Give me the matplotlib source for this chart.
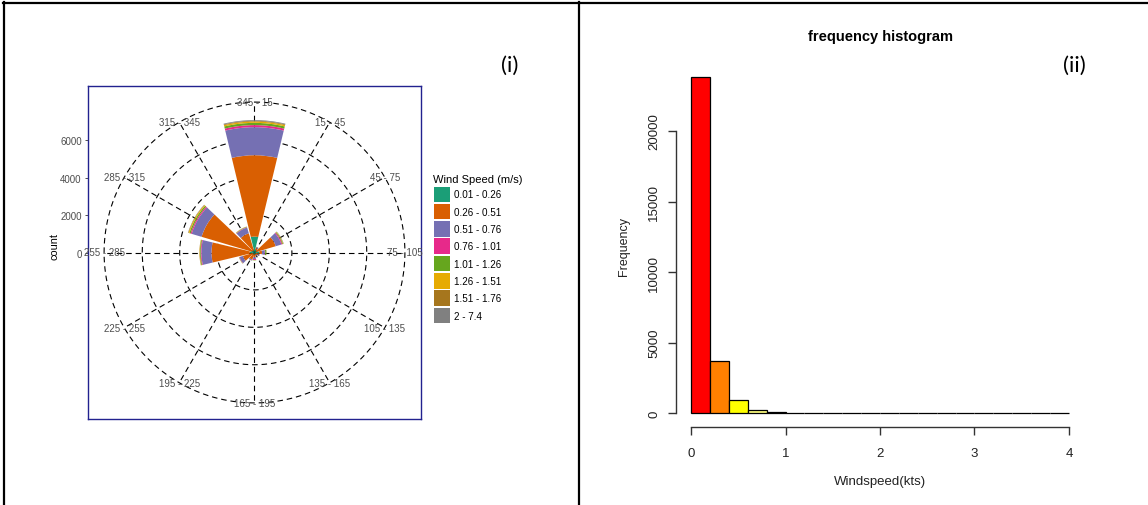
import numpy as np
import matplotlib
matplotlib.use("Agg")
import matplotlib.pyplot as plt
from matplotlib.lines import Line2D
from matplotlib.patches import Rectangle

plt.rcParams['font.family'] = ['Liberation Sans', 'DejaVu Sans']

W, H = 1148, 506

# ---------------- wind rose data ----------------
directions = [0, 30, 60, 90, 120, 150, 180, 210, 240, 270, 300, 330]
dir_labels = ["345 - 15", "15 - 45", "45 - 75", "75 - 105", "105 - 135", "135 - 165",
              "165 - 195", "195 - 225", "225 - 255", "255 - 285", "285 - 315", "315 - 345"]
speed_bins = ["0.01 - 0.26", "0.26 - 0.51", "0.51 - 0.76", "0.76 - 1.01",
              "1.01 - 1.26", "1.26 - 1.51", "1.51 - 1.76", "2 - 7.4"]
speed_colors = ["#1B9E77", "#D95F02", "#7570B3", "#E7298A",
                "#66A61E", "#E6AB02", "#A6761D", "#808080"]
spd_001_026 = [850, 150, 100, 250, 100, 80, 100, 100, 100, 250, 150, 100]
spd_026_051 = [4350, 100, 1080, 150, 100, 80, 150, 300, 550, 2050, 2800, 970]
spd_051_076 = [1500, 50, 320, 150, 50, 40, 100, 50, 180, 540, 550, 320]
spd_076_101 = [110, 10, 50, 20, 5, 5, 50, 5, 20, 40, 60, 20]
spd_101_126 = [120, 10, 40, 60, 5, 5, 20, 5, 15, 40, 70, 20]
spd_126_151 = [70, 5, 20, 10, 0, 0, 5, 0, 5, 20, 50, 10]
spd_151_176 = [40, 0, 10, 5, 0, 0, 0, 0, 0, 10, 20, 5]
spd_2_74 = [40, 0, 10, 5, 0, 0, 0, 0, 0, 0, 10, 5]
speed_series = [spd_001_026, spd_026_051, spd_051_076, spd_076_101,
                spd_101_126, spd_126_151, spd_151_176, spd_2_74]
count_ticks = [0, 2000, 4000, 6000]
grid_circles = [2000, 4000, 6000, 8040]

# ---------------- histogram data ----------------
bin_left = [0.0, 0.2, 0.4, 0.6, 0.8, 1.0, 1.2, 1.4, 1.6, 1.8,
            2.0, 2.2, 2.4, 2.6, 2.8, 3.0, 3.2, 3.4, 3.6, 3.8]
hist_counts = [23800, 3720, 950, 215, 55, 0, 0, 0, 0, 0,
               0, 0, 0, 0, 0, 0, 0, 0, 0, 0]
hist_palette = ["#FF0000", "#FF8000", "#FFFF00", "#FFFF80"]
hist_xticks = [0, 1, 2, 3, 4]
hist_yticks = [0, 5000, 10000, 15000, 20000]


def rect_px(x0, y0, x1, y1):
    return [x0 / W, 1 - y1 / H, (x1 - x0) / W, (y1 - y0) / H]


def fx(x):
    return x / W


def fy(y):
    return 1 - y / H


fig = plt.figure(figsize=(W / 100, H / 100), dpi=100)

# frame lines
for (x0, y0, x1, y1) in [(3, 4, W, 4), (4, 3, 4, H), (579, 3, 579, H)]:
    fig.add_artist(Line2D([fx(x0), fx(x1)], [fy(y0), fy(y1)], color="black",
                          lw=1.6, transform=fig.transFigure))

# ---------------- wind rose ----------------
RMAX = 8900
box = rect_px(88, 87, 421, 420)
axb = fig.add_axes(box)
axb.set_xlim(-RMAX, RMAX)
axb.set_ylim(-RMAX, RMAX)
axb.set_xticks([])
axb.set_yticks(count_ticks)
axb.set_yticklabels([str(t) for t in count_ticks])
axb.tick_params(axis="y", length=2.5, width=0.6, color="#333333",
                labelsize=7, labelcolor="#4D4D4D", pad=2)
for s in axb.spines.values():
    s.set_color("#22228F")
    s.set_linewidth(1.0)
axb.set_facecolor("white")
axb.set_zorder(1)

axp = fig.add_axes(box, projection="polar")
axp.set_zorder(2)
axp.set_theta_zero_location("N")
axp.set_theta_direction(-1)
axp.set_ylim(0, RMAX)
axp.set_axis_off()
axp.patch.set_alpha(0)

theta_fine = np.linspace(0, 2 * np.pi, 721)
for r in grid_circles:
    axp.plot(theta_fine, np.full_like(theta_fine, r), ls=(0, (5, 3.5)),
             color="black", lw=0.8, zorder=1)
for d in directions:
    th = np.deg2rad(d)
    axp.plot([th, th], [0, grid_circles[-1]], ls=(0, (5, 3.5)),
             color="black", lw=0.8, zorder=1)

theta = np.deg2rad(directions)
bottom = np.zeros(len(directions))
for vals, col in zip(speed_series, speed_colors):
    vals = np.array(vals, dtype=float)
    axp.bar(theta, vals, width=np.deg2rad(27), bottom=bottom, color=col,
            linewidth=0, zorder=2)
    bottom += vals

for d, lab in zip(directions, dir_labels):
    axp.text(np.deg2rad(d), grid_circles[-1], lab, ha="center", va="center",
             fontsize=7, color="#4D4D4D", zorder=3, clip_on=False)

fig.text(fx(55), fy(247), "count", rotation=90, ha="center", va="center",
         fontsize=7.8, color="black")

# legend
fig.text(fx(433), fy(180), "Wind Speed (m/s)", ha="left", va="center",
         fontsize=8, color="black")
for i, (lab, col) in enumerate(zip(speed_bins, speed_colors)):
    y0 = 187.5 + i * 17.3
    fig.add_artist(Rectangle((fx(434), fy(y0 + 15.5)), 16 / W, 15.5 / H,
                             facecolor=col, edgecolor="none",
                             transform=fig.transFigure))
    fig.text(fx(454), fy(y0 + 8), lab, ha="left", va="center",
             fontsize=7.1, color="black")

fig.text(fx(510), fy(66), "(i)", ha="center", va="center", fontsize=16,
         family=["Lato", "DejaVu Sans"], color="black")

# ---------------- histogram ----------------
ax2 = fig.add_axes(rect_px(676, 65, 1084, 427.5))
ymax = max(hist_counts)
ax2.set_xlim(-0.04 * 4, 4 + 0.04 * 4)
ax2.set_ylim(-0.04 * ymax, ymax * 1.04)
bar_cols = [hist_palette[i % len(hist_palette)] for i in range(len(bin_left))]
ax2.bar(bin_left, hist_counts, width=0.2, align="edge", color=bar_cols,
        edgecolor="black", linewidth=0.9)
for side in ["top", "right"]:
    ax2.spines[side].set_visible(False)
ax2.spines["left"].set_bounds(0, 20000)
ax2.spines["bottom"].set_bounds(0, 4)
for side in ["left", "bottom"]:
    ax2.spines[side].set_color("#333333")
    ax2.spines[side].set_linewidth(1.0)
ax2.set_xticks(hist_xticks)
ax2.set_xticklabels([str(t) for t in hist_xticks])
ax2.set_yticks(hist_yticks)
ax2.set_yticklabels([str(t) for t in hist_yticks], rotation=90, va="center")
ax2.tick_params(axis="both", length=5.5, width=1.0, color="#333333",
                labelsize=9.5, labelcolor="#222222")
ax2.tick_params(axis="x", pad=9)
ax2.tick_params(axis="y", pad=6)
ax2.patch.set_alpha(0)

fig.text(fx(880), fy(37), "frequency histogram", ha="center", va="center",
         fontsize=10.5, fontweight="bold", color="black")
fig.text(fx(880), fy(482), "Windspeed(kts)", ha="center", va="center",
         fontsize=9.5, color="#222222")
fig.text(fx(624), fy(246), "Frequency", rotation=90, ha="center", va="center",
         fontsize=9, color="#222222")
fig.text(fx(1074), fy(66), "(ii)", ha="center", va="center", fontsize=16,
         family=["Lato", "DejaVu Sans"], color="black")

fig.savefig("out.png", dpi=100)
